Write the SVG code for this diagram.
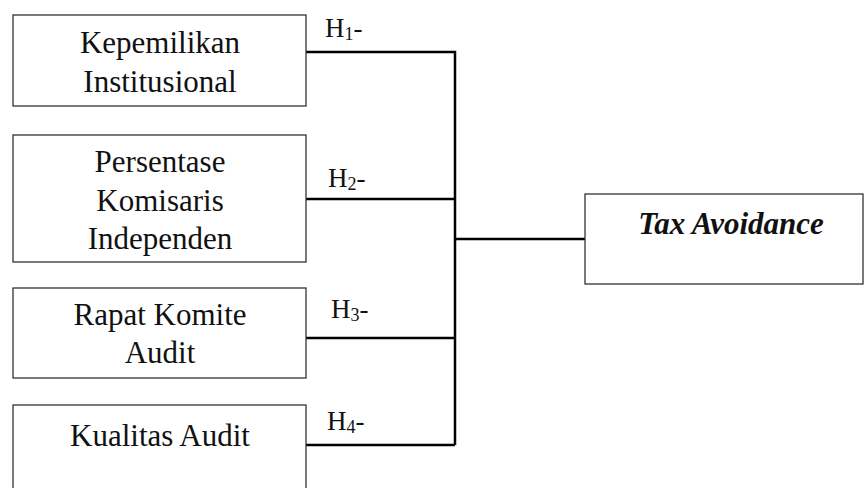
<svg xmlns="http://www.w3.org/2000/svg" width="864" height="488" viewBox="0 0 864 488">
<style>
.box{fill:#fff;stroke:#333;stroke-width:1.3}
.t{font-family:"Liberation Serif","Times New Roman",serif;font-size:31px;fill:#111;text-anchor:middle}
.h{font-family:"Liberation Serif","Times New Roman",serif;font-size:27px;fill:#111}
.conn{stroke:#000;stroke-width:2.5;fill:none}
</style>
<rect width="864" height="488" fill="#fff"/>
<g id="connectors">
<path class="conn" d="M306 52H455V445M306 199H455M306 338H455M306 445H455M455 239H585"/>
<text class="h" x="325" y="37">H<tspan font-size="18" dy="3">1</tspan><tspan dy="-3">-</tspan></text>
<text class="h" x="328" y="187">H<tspan font-size="18" dy="3">2</tspan><tspan dy="-3">-</tspan></text>
<text class="h" x="331" y="318">H<tspan font-size="18" dy="3">3</tspan><tspan dy="-3">-</tspan></text>
<text class="h" x="327" y="430">H<tspan font-size="18" dy="3">4</tspan><tspan dy="-3">-</tspan></text>
</g>
<g id="kepemilikan">
<rect class="box" x="13" y="15" width="293" height="91"/>
<text class="t" x="160" y="53">Kepemilikan</text>
<text class="t" x="160" y="92">Institusional</text>
</g>
<g id="komisaris">
<rect class="box" x="13" y="135" width="293" height="127"/>
<text class="t" x="160" y="172">Persentase</text>
<text class="t" x="160" y="211">Komisaris</text>
<text class="t" x="160" y="249">Independen</text>
</g>
<g id="komite">
<rect class="box" x="13" y="288" width="293" height="90"/>
<text class="t" x="160" y="325">Rapat Komite</text>
<text class="t" x="160" y="363">Audit</text>
</g>
<g id="kualitas">
<rect class="box" x="13" y="405" width="293" height="100"/>
<text class="t" x="160" y="446">Kualitas Audit</text>
</g>
<g id="tax">
<rect class="box" x="585" y="194" width="278" height="90"/>
<text class="t" x="731" y="234" font-size="32" font-weight="bold" font-style="italic">Tax Avoidance</text>
</g>
</svg>
